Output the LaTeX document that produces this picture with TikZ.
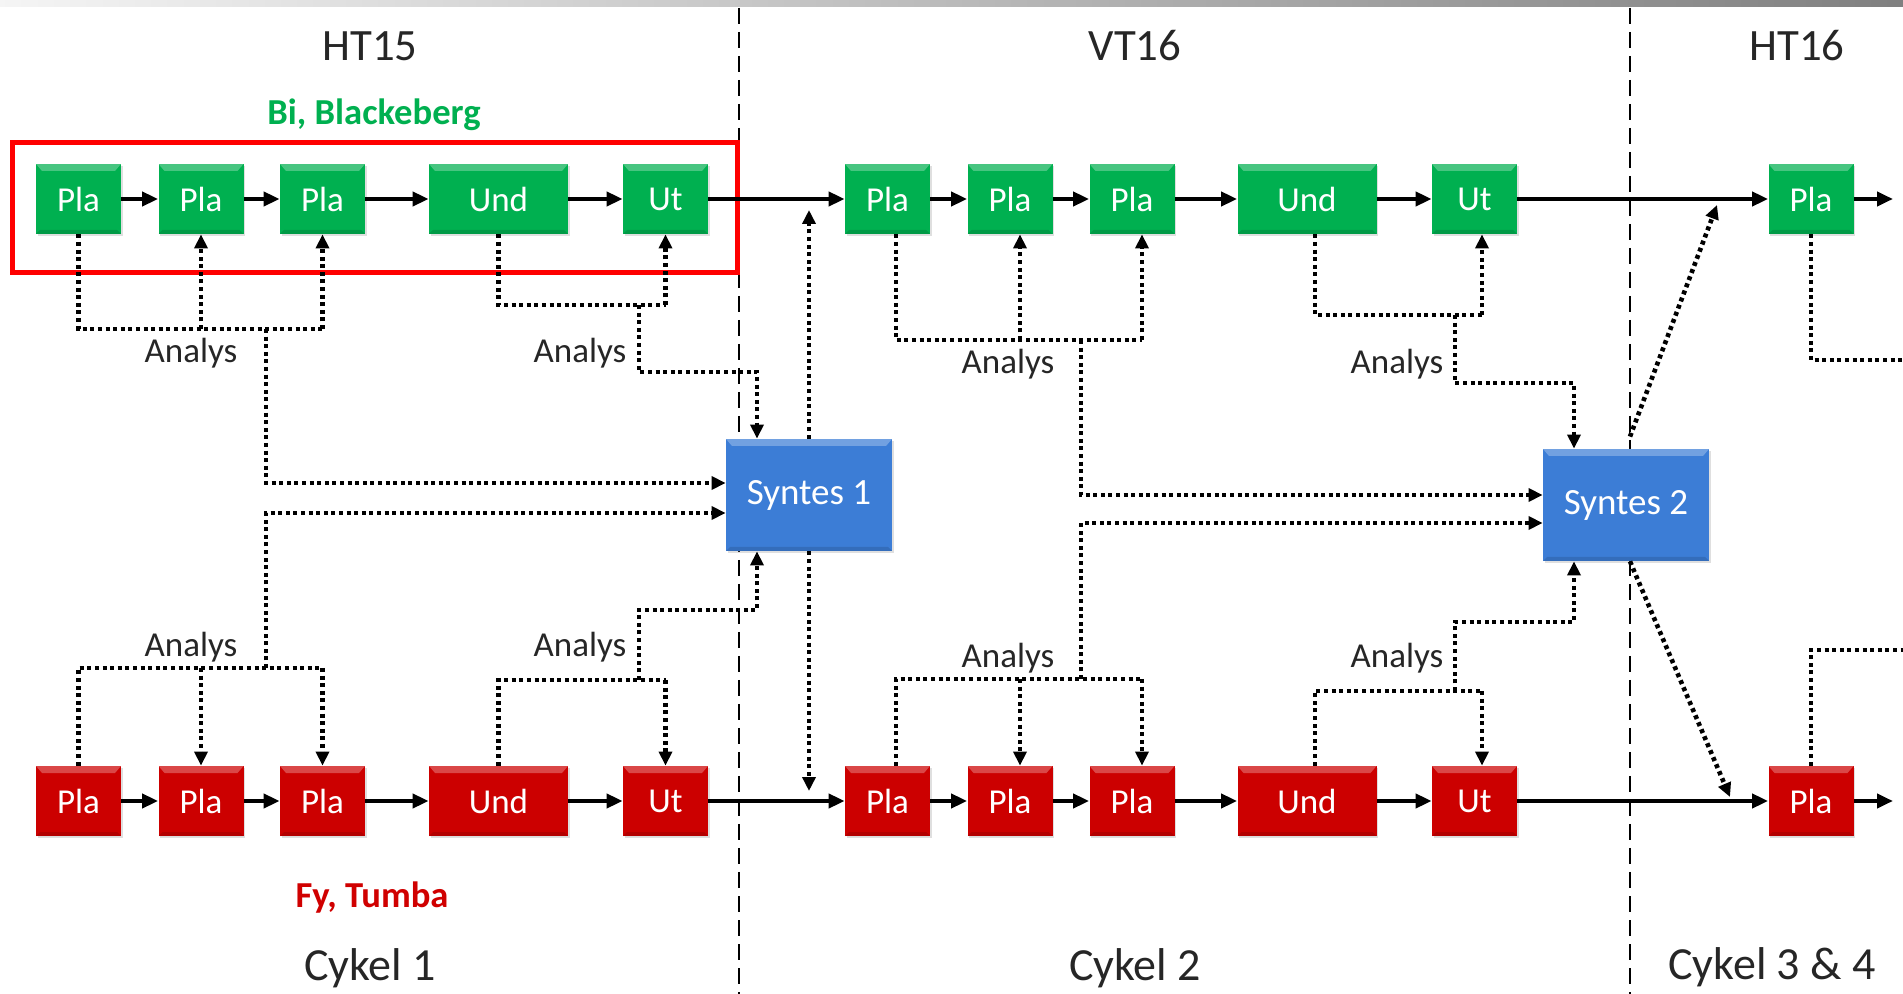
\documentclass[tikz,border=0pt]{standalone}
\usepackage{fontspec}
\setmainfont{Carlito}
\usetikzlibrary{arrows.meta,shadows}
\definecolor{gr}{HTML}{00B050}
\definecolor{rd}{HTML}{CC0000}
\definecolor{bl}{HTML}{3C7DD6}
\definecolor{txtred}{HTML}{D00000}
\definecolor{txtgreen}{HTML}{00B050}
\definecolor{txtgray}{HTML}{262626}
\begin{document}
\begin{tikzpicture}[x=0.5pt,y=-0.5pt,
  bevel/.style={path picture={
     \fill[white,opacity=0.28] (path picture bounding box.north west) -- (path picture bounding box.north east) -- ([xshift=-3pt,yshift=-3.5pt]path picture bounding box.north east) -- ([xshift=3pt,yshift=-3.5pt]path picture bounding box.north west) -- cycle;
     \fill[black,opacity=0.12] (path picture bounding box.south west) -- (path picture bounding box.south east) -- ([xshift=-2pt,yshift=2pt]path picture bounding box.south east) -- ([xshift=2pt,yshift=2pt]path picture bounding box.south west) -- cycle;
  }},
  box/.style={bevel, draw=none, inner sep=0pt, minimum height=35pt, text=white,
     font=\fontsize{17.5}{19}\selectfont,
     drop shadow={opacity=0.25,shadow xshift=0.8pt,shadow yshift=-1.2pt}},
  pla/.style={box, minimum width=42.5pt},
  und/.style={box, minimum width=69.5pt},
  syn/.style={box, fill=bl, minimum width=83pt, minimum height=56pt, font=\fontsize{18.5}{20}\selectfont},
  lbl/.style={text=txtgray, inner sep=0pt},
  sem/.style={lbl, font=\fontsize{22.4}{24}\selectfont},
  cyk/.style={lbl, font=\fontsize{23}{25}\selectfont},
  ana/.style={lbl, font=\fontsize{17.5}{19}\selectfont},
  site/.style={inner sep=0pt, font=\bfseries\fontsize{18.3}{20}\selectfont},
  solidarr/.style={line width=2pt, -{Triangle[length=8pt,width=7pt]}},
  dot/.style={line width=2.3pt, dash pattern=on 2pt off 1.8pt},
  dotarr/.style={dot, -{Triangle[length=7pt,width=6.5pt]}},
  divider/.style={line width=1.2pt, dash pattern=on 8pt off 4pt}
]
\useasboundingbox (0,0) rectangle (1903,994);
\fill[white] (0,0) rectangle (1903,994);
\shade[left color=black!4, middle color=black!18, right color=black!50] (0,0) rectangle (1903,7);

% period dividers
\coordinate (d1t) at (739,8);
\coordinate (d1b) at (739,994);
\coordinate (d2t) at (1630,8);
\coordinate (d2b) at (1630,994);
\draw[divider] (d1t) -- (d1b);
\draw[divider] (d2t) -- (d2b);

% titles
\node[sem] (ht15) at (370,46) {HT15};
\node[sem] (vt16) at (1135,46) {VT16};
\node[sem] (ht16) at (1797,46) {HT16};
\node[cyk] (c1) at (370,968) {Cykel 1};
\node[cyk] (c2) at (1135,968) {Cykel 2};
\node[cyk] (c3) at (1772,967) {Cykel 3 \& 4};
\node[site, text=txtgreen] (bi) at (374,115) {Bi, Blackeberg};
\node[site, text=txtred] (fy) at (372,898) {Fy, Tumba};

% green row
\node[pla, fill=gr] (g1) at (78.5,199) {Pla};
\node[pla, fill=gr] (g2) at (201,199) {Pla};
\node[pla, fill=gr] (g3) at (322.5,199) {Pla};
\node[und, fill=gr] (g4) at (498.5,199) {Und};
\node[pla, fill=gr] (g5) at (665.5,199) {Ut};
\node[pla, fill=gr] (g6) at (887.5,199) {Pla};
\node[pla, fill=gr] (g7) at (1010,199) {Pla};
\node[pla, fill=gr] (g8) at (1132,199) {Pla};
\node[und, fill=gr] (g9) at (1307,199) {Und};
\node[pla, fill=gr] (g10) at (1474.5,199) {Ut};
\node[pla, fill=gr] (g11) at (1811,199) {Pla};
\coordinate (gend) at (1893,199);

% red row
\node[pla, fill=rd] (r1) at (78.5,801) {Pla};
\node[pla, fill=rd] (r2) at (201,801) {Pla};
\node[pla, fill=rd] (r3) at (322.5,801) {Pla};
\node[und, fill=rd] (r4) at (498.5,801) {Und};
\node[pla, fill=rd] (r5) at (665.5,801) {Ut};
\node[pla, fill=rd] (r6) at (887.5,801) {Pla};
\node[pla, fill=rd] (r7) at (1010,801) {Pla};
\node[pla, fill=rd] (r8) at (1132,801) {Pla};
\node[und, fill=rd] (r9) at (1307,801) {Und};
\node[pla, fill=rd] (r10) at (1474.5,801) {Ut};
\node[pla, fill=rd] (r11) at (1811,801) {Pla};
\coordinate (rend) at (1893,801);

% synthesis
\node[syn] (s1) at (809,495) {Syntes 1};
\node[syn] (s2) at (1626,505) {Syntes 2};

% highlight frame
\draw[red, line width=2.5pt] (12,143) rectangle (737,273);

% solid flow
\foreach \a/\b in {g1/g2,g2/g3,g3/g4,g4/g5,g5/g6,g6/g7,g7/g8,g8/g9,g9/g10,g10/g11,
                   r1/r2,r2/r3,r3/r4,r4/r5,r5/r6,r6/r7,r7/r8,r8/r9,r9/r10,r10/r11}
  \draw[solidarr] (\a) -- (\b);
\draw[solidarr] (g11) -- (gend);
\draw[solidarr] (r11) -- (rend);

% ---------- cycle 1 ----------
\coordinate (yT1) at (0,329);
\coordinate (yU1) at (0,305);
\coordinate (yB1) at (0,668);
\coordinate (yV1) at (0,680);
\coordinate (xJ1) at (266,0);
\coordinate (xK1) at (639,0);
\coordinate (xS1) at (757,0);
\coordinate (yS1a) at (0,483);
\coordinate (yS1b) at (0,513);
\coordinate (yK1a) at (0,372);
\coordinate (yK1b) at (0,610);

\draw[dot] (g1.south) -- (g1.south |- yT1) -- (g3.south |- yT1);
\draw[dotarr] (g2.south |- yT1) -- (g2.south);
\draw[dotarr] (g3.south |- yT1) -- (g3.south);
\draw[dotarr] (xJ1 |- yT1) -- (xJ1 |- yS1a) -- (s1.west |- yS1a);
\node[ana] (a1) at (191,353) {Analys};

\draw[dot] (g4.south) -- (g4.south |- yU1) -- (g5.south |- yU1);
\draw[dotarr] (g5.south |- yU1) -- (g5.south);
\draw[dotarr] (xK1 |- yU1) -- (xK1 |- yK1a) -- (xS1 |- yK1a) -- (xS1 |- s1.north);
\node[ana] (a2) at (580,353) {Analys};

\draw[dot] (r1.north) -- (r1.north |- yB1) -- (r3.north |- yB1);
\draw[dotarr] (r2.north |- yB1) -- (r2.north);
\draw[dotarr] (r3.north |- yB1) -- (r3.north);
\draw[dotarr] (xJ1 |- yB1) -- (xJ1 |- yS1b) -- (s1.west |- yS1b);
\node[ana] (a3) at (191,647) {Analys};

\draw[dot] (r4.north) -- (r4.north |- yV1) -- (r5.north |- yV1);
\draw[dotarr] (r5.north |- yV1) -- (r5.north);
\draw[dotarr] (xK1 |- yV1) -- (xK1 |- yK1b) -- (xS1 |- yK1b) -- (xS1 |- s1.south);
\node[ana] (a4) at (580,647) {Analys};

\coordinate (e1t) at (0,210);
\coordinate (e1b) at (0,791);
\draw[dotarr] (s1.north) -- (s1.north |- e1t);
\draw[dotarr] (s1.south) -- (s1.south |- e1b);

% ---------- cycle 2 ----------
\coordinate (yT2) at (0,340);
\coordinate (yU2) at (0,315);
\coordinate (yB2) at (0,679);
\coordinate (yV2) at (0,691);
\coordinate (x6) at (896,0);
\coordinate (x7) at (1020,0);
\coordinate (x8) at (1142,0);
\coordinate (x9) at (1315,0);
\coordinate (x10) at (1482,0);
\coordinate (xJ2) at (1081,0);
\coordinate (xK2) at (1455,0);
\coordinate (xS2) at (1574,0);
\coordinate (yS2a) at (0,495);
\coordinate (yS2b) at (0,523);
\coordinate (yK2a) at (0,383);
\coordinate (yK2b) at (0,622);

\draw[dot] (x6 |- g6.south) -- (x6 |- yT2) -- (x8 |- yT2);
\draw[dotarr] (x7 |- yT2) -- (x7 |- g7.south);
\draw[dotarr] (x8 |- yT2) -- (x8 |- g8.south);
\draw[dotarr] (xJ2 |- yT2) -- (xJ2 |- yS2a) -- (s2.west |- yS2a);
\node[ana] (a5) at (1008,364) {Analys};

\draw[dot] (x9 |- g9.south) -- (x9 |- yU2) -- (x10 |- yU2);
\draw[dotarr] (x10 |- yU2) -- (x10 |- g10.south);
\draw[dotarr] (xK2 |- yU2) -- (xK2 |- yK2a) -- (xS2 |- yK2a) -- (xS2 |- s2.north);
\node[ana] (a6) at (1397,364) {Analys};

\draw[dot] (x6 |- r6.north) -- (x6 |- yB2) -- (x8 |- yB2);
\draw[dotarr] (x7 |- yB2) -- (x7 |- r7.north);
\draw[dotarr] (x8 |- yB2) -- (x8 |- r8.north);
\draw[dotarr] (xJ2 |- yB2) -- (xJ2 |- yS2b) -- (s2.west |- yS2b);
\node[ana] (a7) at (1008,658) {Analys};

\draw[dot] (x9 |- r9.north) -- (x9 |- yV2) -- (x10 |- yV2);
\draw[dotarr] (x10 |- yV2) -- (x10 |- r10.north);
\draw[dotarr] (xK2 |- yV2) -- (xK2 |- yK2b) -- (xS2 |- yK2b) -- (xS2 |- s2.south);
\node[ana] (a8) at (1397,658) {Analys};

\coordinate (e2t) at (1717,205);
\coordinate (e2b) at (1730,797);
\draw[dotarr] ([xshift=2pt,yshift=6pt]s2.north) -- (e2t);
\draw[dotarr] ([xshift=2pt]s2.south) -- (e2b);

% ---------- cycle 3 ----------
\coordinate (yH1) at (0,360);
\coordinate (yH2) at (0,650);
\coordinate (xR) at (1903,0);
\draw[dot] (g11.south) -- (g11.south |- yH1) -- (xR |- yH1);
\draw[dot] (r11.north) -- (r11.north |- yH2) -- (xR |- yH2);
\end{tikzpicture}
\end{document}
